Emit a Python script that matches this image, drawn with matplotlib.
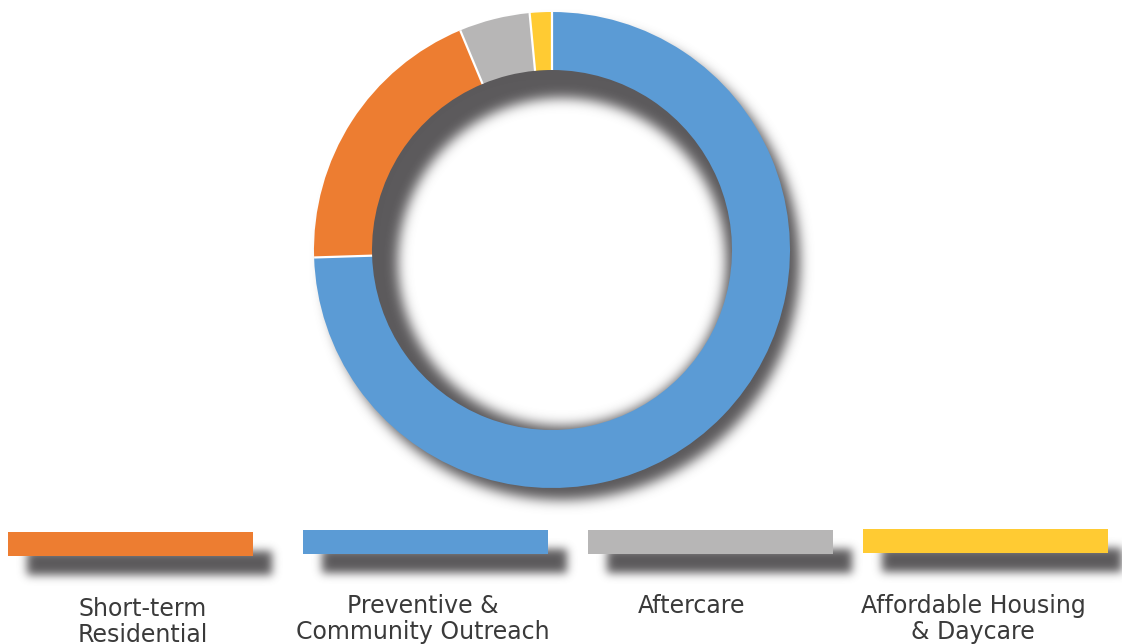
import numpy as np
import matplotlib
matplotlib.use("Agg")
import matplotlib.pyplot as plt
from matplotlib.patches import Wedge, Rectangle

# ── data ──────────────────────────────────────────────────────────────────────
categories = ["Short-term\nResidential", "Preventive &\nCommunity Outreach",
              "Aftercare", "Affordable Housing\n& Daycare"]
shares = [19.2, 74.5, 4.8, 1.5]
colors = ["#ed7d31", "#5b9bd5", "#b7b6b6", "#ffcb33"]
ring_order = [1, 0, 2, 3]   # clockwise from 12 o'clock

W, H = 1122, 644
SHADOW = (0.36, 0.35, 0.36)


def blur_filter(sigma):
    r = int(3 * sigma)
    x = np.arange(-r, r + 1)
    k = np.exp(-x ** 2 / (2 * sigma ** 2))
    k /= k.sum()

    def f(im, dpi):
        a = np.pad(im[..., 3], r + 2)
        out = np.zeros_like(a)
        for i, w in zip(x, k):
            out += w * np.roll(a, i, axis=0)
        a = np.zeros_like(out)
        for i, w in zip(x, k):
            a += w * np.roll(out, i, axis=1)
        res = np.zeros(a.shape + (4,))
        res[..., :3] = SHADOW
        res[..., 3] = a
        return res, -(r + 2), -(r + 2)
    return f


fig = plt.figure(figsize=(W / 100, H / 100), dpi=100)
ax = fig.add_axes([0, 0, 1, 1])

cx, cy, R, ring = 552, H - 250, 238, 58

# ── donut shadow ──────────────────────────────────────────────────────────────
sh = Wedge((cx + 10, cy - 12), R, 0, 360, width=ring + 16, facecolor="k", edgecolor="none")
sh.set_agg_filter(blur_filter(6))
ax.add_patch(sh)

vals = [shares[i] for i in ring_order]
ax.pie(vals, colors=[colors[i] for i in ring_order],
       startangle=90, counterclock=False, radius=R, center=(cx, cy),
       wedgeprops=dict(width=ring, edgecolor="none"))

# thin white gaps between the segments
bounds = 90 - 360 * np.cumsum([0] + vals[:-1]) / sum(vals)
for t in np.radians(bounds):
    ax.plot([cx + (R - ring) * np.cos(t), cx + R * np.cos(t)],
            [cy + (R - ring) * np.sin(t), cy + R * np.sin(t)],
            color="white", lw=1.6, solid_capstyle="butt")

# ── legend bars ───────────────────────────────────────────────────────────────
bar_x = [8, 303, 588, 863]
bar_top = [532, 530, 530, 529]
text_x = [143, 423, 692, 973]
bw, bh = 245, 24
for i, lab in enumerate(categories):
    y0 = H - bar_top[i] - bh
    s = Rectangle((bar_x[i] + 19, y0 - 19), bw, bh, facecolor="k", edgecolor="none")
    s.set_agg_filter(blur_filter(4.5))
    ax.add_patch(s)
    ax.add_patch(Rectangle((bar_x[i], y0), bw, bh, facecolor=colors[i], edgecolor="none"))
    top = 597 if i == 0 else 594
    ax.text(text_x[i], H - top, lab, ha="center", va="top", fontsize=17,
            color="#3a3a3a", linespacing=1.12, family="DejaVu Sans")

ax.set_xlim(0, W)
ax.set_ylim(0, H)
ax.set_aspect("equal")
ax.axis("off")

fig.savefig("out.png", dpi=100, facecolor="white")
